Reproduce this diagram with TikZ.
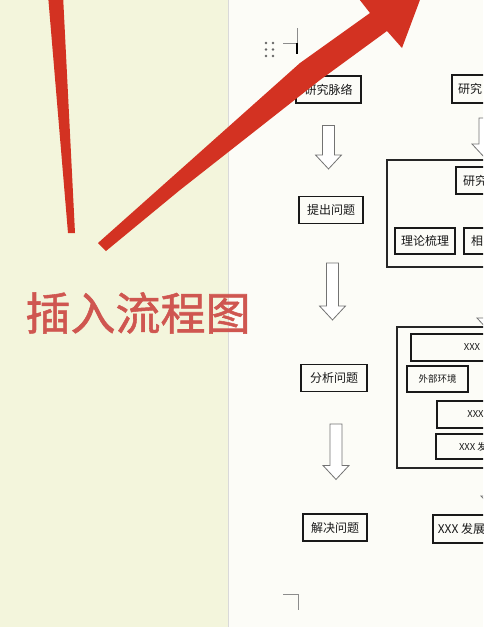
\documentclass[tikz,border=0pt]{standalone}
\usepackage{fontspec}
\setmainfont{Noto Sans CJK SC}
\newfontfamily\titlefont[FakeBold=1.2]{Noto Sans CJK SC}
\usetikzlibrary{calc}

\definecolor{panelbg}{RGB}{243,245,220}
\definecolor{pagebg}{RGB}{252,252,247}
\definecolor{redmark}{RGB}{211,50,34}
\definecolor{titlered}{RGB}{207,86,80}

\tikzset{
  box/.style={draw=black!90, line width=1.1pt, fill=pagebg, minimum height=27pt,
    inner sep=0pt, text=black!90, font=\fontsize{12}{14}\selectfont},
  smallbox/.style={box, minimum height=26pt, font=\fontsize{9.5}{11}\selectfont},
  frame/.style={draw=black!85, line width=1.1pt},
  hollow/.style={draw=black!55, line width=0.8pt, fill=white},
  cropline/.style={draw=black!45, line width=0.5pt}
}

% hollow block arrow pointing down, from #1 to tip #2
\newcommand{\blockarrow}[2]{%
  \draw[hollow] let \p1=(#1), \p2=(#2) in
    (\x1-6pt,\y1) -- (\x1+6pt,\y1) -- (\x1+6pt,\y2+14pt) -- (\x1+13pt,\y2+14pt)
    -- (\x1,\y2) -- (\x1-13pt,\y2+14pt) -- (\x1-6pt,\y2+14pt) -- cycle;}

\begin{document}
\begin{tikzpicture}[x=1pt,y=-1pt]
\useasboundingbox (0,0) rectangle (483,627);
\clip (0,0) rectangle (483,627);
% Backgrounds: note panel and page
\fill[panelbg] (0,0) rectangle (228,627);
\fill[pagebg] (228,0) rectangle (483,627);
\draw[black!15] (228,0) -- (228,627);

% Crop marks, cursor and drag handle
\draw[cropline] (283,43) -- (297,43) -- (297,28);
\draw[cropline] (283,594) -- (298,594) -- (298,610);
\draw[black, line width=1.8pt] (297,43) -- (297,54);
\foreach \x in {266,273}
  \foreach \y in {43,49.5,56}
    \fill[black!60] (\x,\y) circle (1.4);

% Left column
\node[box, minimum width=65pt] (mailuo) at (328.5,89.5) {研究脉络};
\node[box, minimum width=64pt] (tichu) at (331,210) {提出问题};
\node[box, minimum width=66pt] (fenxi) at (334,378) {分析问题};
\node[box, minimum width=64pt] (jiejue) at (335,527.5) {解决问题};
\blockarrow{$(mailuo.south)+(0,22)$}{$(tichu.north)+(0,-27)$}
\blockarrow{$(tichu.south)+(1.5,39)$}{$(fenxi.north)+(0,-44)$}
\blockarrow{$(fenxi.south)+(2,32)$}{$(jiejue.north)+(0,-34)$}

% Right column, cut by the edge of the photo
\node[box, minimum width=36pt, minimum height=28pt] (yanjiu) at (470,89) {研究};
\draw[frame] (387,160) rectangle (600,267);
\node[box, minimum width=38pt] (kuangjia) at (475,180.5) {研究};
\node[box, minimum width=60pt, minimum height=26pt] (lilun) at (425,241) {理论梳理};
\node[box, minimum width=26pt, minimum height=26pt] (xiang) at (477,241) {相};
\draw[frame] (397,327) rectangle (600,468);
\node[smallbox, minimum width=122pt, minimum height=27pt] (xxxa) at (472,347.5) {XXX};
\node[smallbox, minimum width=61pt] (waibu) at (437.5,379) {外部环境};
\node[smallbox, minimum width=77pt, minimum height=27pt] (xxxb) at (475.5,414.5) {XXX};
\node[smallbox, minimum width=74pt, minimum height=25pt] (xxxc) at (473,446.5) {XXX 发};
\node[box, minimum width=57pt, minimum height=28pt] (fazhan) at (461.5,529) {XXX 发展};
\coordinate (r1a) at (485,118);
\coordinate (r1b) at (485,158);
\coordinate (r2a) at (490,284);
\coordinate (r2b) at (490,332);
\coordinate (r3a) at (494,474);
\coordinate (r3b) at (494,510);
\blockarrow{r1a}{r1b}
\blockarrow{r2a}{r2b}
\blockarrow{r3a}{r3b}

% Caption on the note panel
\node[text=titlered, font=\titlefont\fontsize{45}{50}\selectfont] (title) at (138,313) {插入流程图};

% Long red stroke
\fill[redmark] (48,-5) -- (63,-5) -- (75,233) -- (68,233) -- cycle;
% Big red arrow onto the page
\fill[redmark] (98,243) -- (180,170) -- (300,63) -- (370,13) -- (352,-10)
  -- (433,-35) -- (402,48) -- (387,31) -- (320,80) -- (180,190) -- (106,251) -- cycle;
\end{tikzpicture}
\end{document}
